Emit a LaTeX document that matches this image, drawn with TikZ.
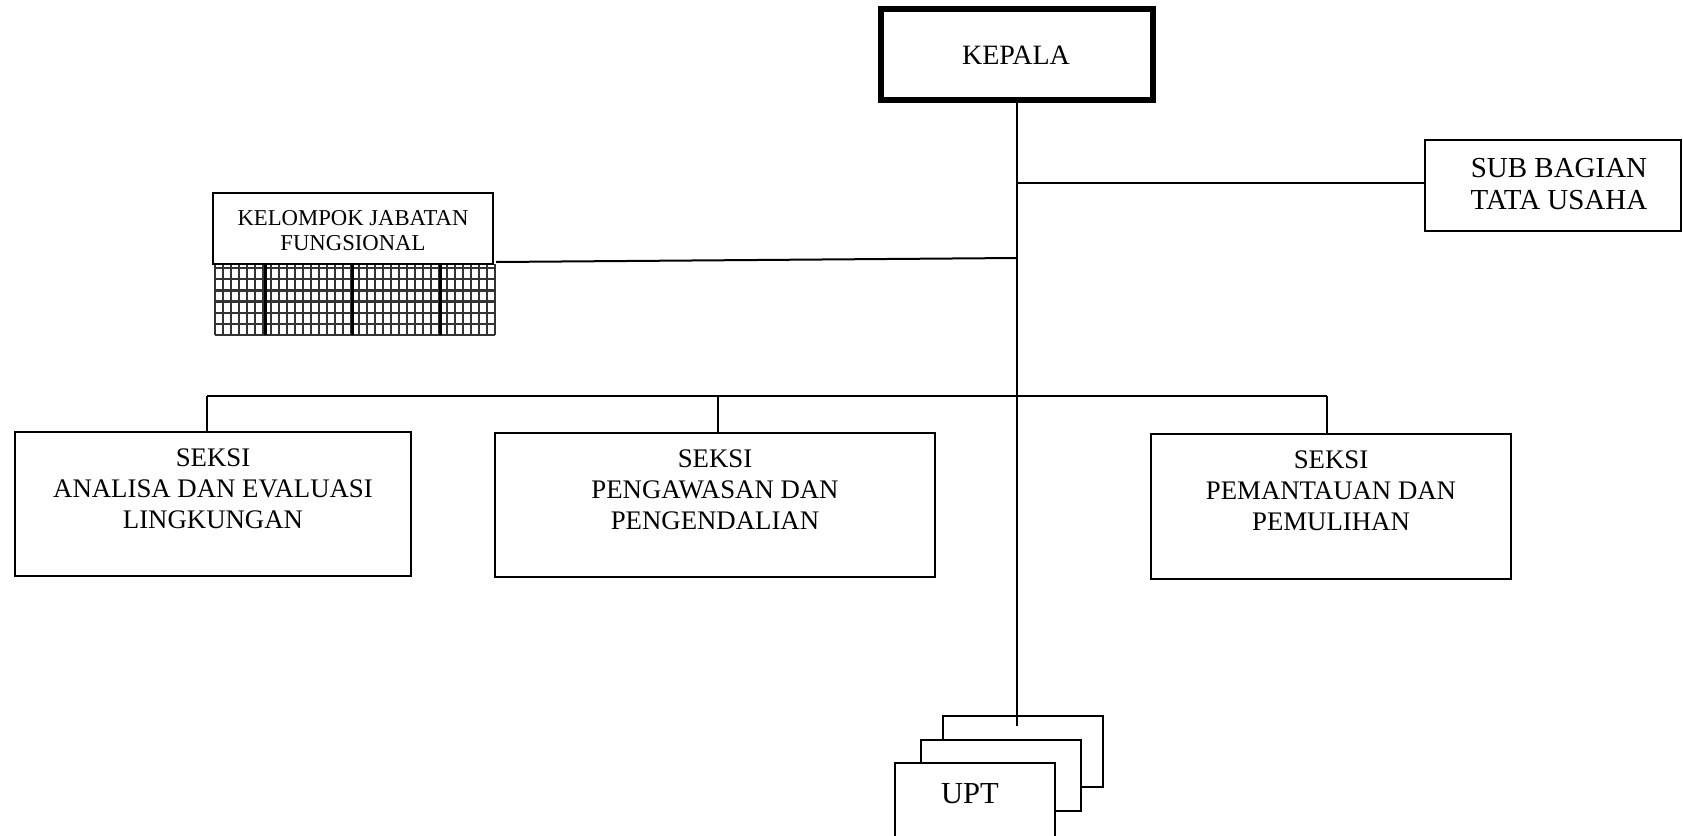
\documentclass[tikz,border=0pt]{standalone}
\usepackage{fontspec}
\setmainfont{Liberation Serif}
\newcommand\fsz[2]{\fontsize{#1}{#2}\selectfont}
\begin{document}
\begin{tikzpicture}[x=1pt,y=-1pt,
  box/.style={draw, line width=2pt, fill=white, inner sep=0pt},
  conn/.style={line width=2pt},
  txt/.style={inner sep=0pt, align=center, anchor=north},
  gridline/.style={line width=2.5pt, draw=black!80}]
\useasboundingbox (0,0) rectangle (1683,835);
\clip (0,0) rectangle (1683,835);
% boxes
\node[box, line width=6pt, minimum width=272pt, minimum height=91pt] (kep) at (1017,54.5) {};
\node[box, minimum width=256pt, minimum height=91pt] (sub) at (1553,185.5) {};
% grid under kelompok
\fill[white] (215,264) rectangle (495,335);
\foreach \i in {0,...,35} \draw[gridline] (215+8*\i,264) -- (215+8*\i,335);
\foreach \yy in {268,279.2,290.4,301.6,312.8,324,335} \draw[gridline] (215,\yy) -- (495,\yy);
\foreach \xx in {265,352,440} \draw[line width=3pt] (\xx,264) -- (\xx,335);
\node[box, line width=1.5pt, minimum width=280pt, minimum height=71pt] (kel) at (353,228.5) {};
\node[box, minimum width=396pt, minimum height=144pt] (s1) at (213,504) {};
\node[box, minimum width=440pt, minimum height=144pt] (s2) at (715,505) {};
\node[box, minimum width=360pt, minimum height=145pt] (s3) at (1331,506.5) {};
\node[box, minimum width=160pt, minimum height=71pt] (upt3) at (1023,751.5) {};
\node[box, minimum width=160pt, minimum height=71pt] (upt2) at (1001,775.5) {};
\node[box, minimum width=160pt, minimum height=110pt] (upt1) at (975,818) {};
% texts
\node[txt, font=\fsz{28}{32}] (kept) at (1016,45.5) {KEPALA};
\node[txt, font=\fsz{29}{32}] (subt) at (1559,158) {SUB BAGIAN\\TATA USAHA};
\node[txt, font=\fsz{22.7}{25}] (kelt) at (353,210.5) {KELOMPOK JABATAN\\FUNGSIONAL};
\node[txt, font=\fsz{26.8}{31}] (s1t) at (213,449) {SEKSI\\ANALISA DAN EVALUASI\\LINGKUNGAN};
\node[txt, font=\fsz{26.8}{31}] (s2t) at (715,450) {SEKSI\\PENGAWASAN DAN\\PENGENDALIAN};
\node[txt, font=\fsz{26.8}{31}] (s3t) at (1331,451) {SEKSI\\PEMANTAUAN DAN\\PEMULIHAN};
\node[txt, font=\fsz{30.5}{34}] (uptt) at (970,783) {UPT};
% connectors
\coordinate (tend) at (1017,726);
\coordinate (jsub) at (1017,183);
\coordinate (jkel) at (1017,258);
\coordinate (kelend) at (496,262);
\coordinate (b1) at (207,396);
\coordinate (b2) at (718,396);
\coordinate (b3) at (1327,396);
\draw[conn] (kep.south) -- (tend);
\draw[conn] (jsub) -- (jsub -| sub.west);
\draw[conn] (kelend) -- (jkel);
\draw[conn] (b1) -- (b3);
\draw[conn] (b1) -- (b1 |- s1.north);
\draw[conn] (b2) -- (b2 |- s2.north);
\draw[conn] (b3) -- (b3 |- s3.north);
\end{tikzpicture}
\end{document}
